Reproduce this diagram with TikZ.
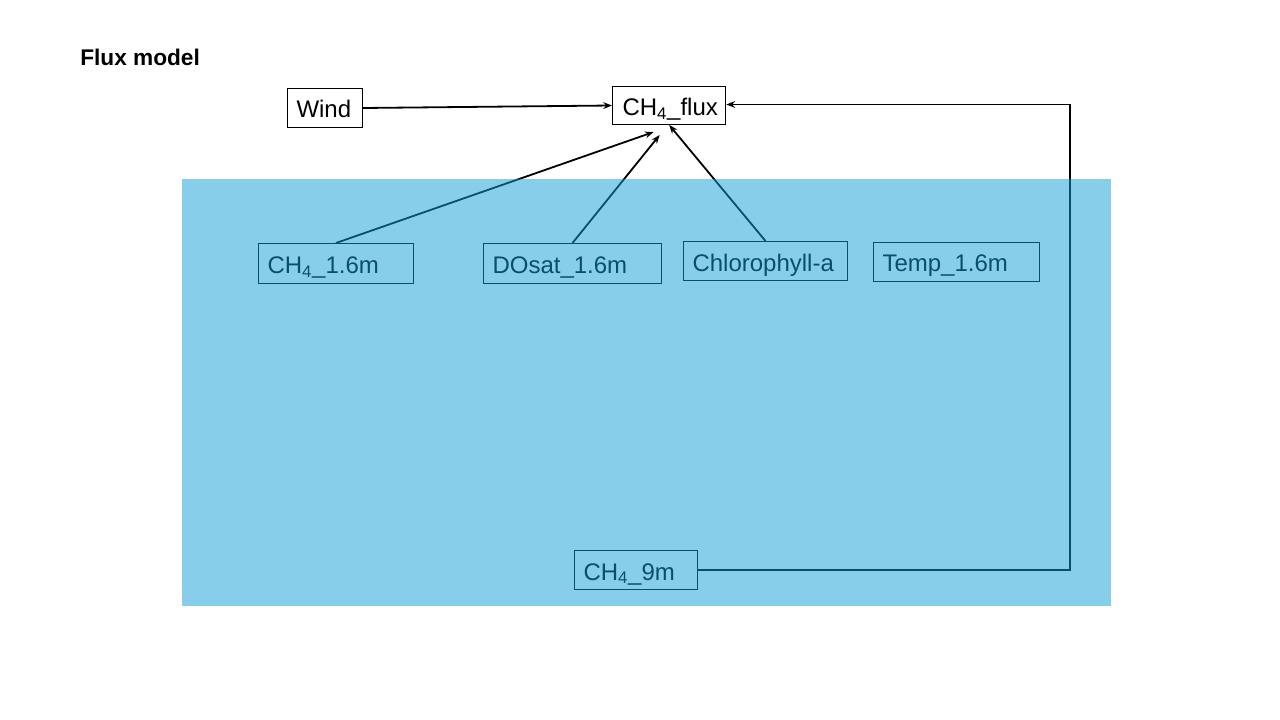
\documentclass[tikz,border=0pt]{standalone}
\usepackage{fontspec}
\setmainfont{Liberation Sans}
\usetikzlibrary{arrows.meta,calc}
\definecolor{water}{HTML}{0F9ED5}
\tikzset{
  bx/.style={draw=black, line width=0.75pt, inner xsep=6.75pt, inner ysep=0pt,
    text height=15pt, text depth=0pt,
    align=left, anchor=north west, font=\fontsize{18pt}{21pt}\selectfont, text=black},
  conn/.style={draw=black, line width=1.35pt},
  arr/.style={conn, -{Stealth[length=6.5pt,width=5pt]}}
}
\begin{document}
\begin{tikzpicture}[x=0.75pt,y=-0.75pt]
\useasboundingbox (0,0) rectangle (1280,720);
\node[anchor=base west, inner sep=0pt, font=\bfseries\fontsize{17pt}{20pt}\selectfont] (title) at (80,66) {Flux model};
\node[bx, text width=42.75pt, minimum height=29.25pt] (wind) at (287,88) {Wind};
\node[bx, text width=70pt, minimum height=28.5pt, inner xsep=7.5pt] (flux) at (612,86) {CH\textsubscript{4}\_flux};
\node[bx, text width=102.75pt, minimum height=30pt] (c16) at (258,243) {CH\textsubscript{4}\_1.6m};
\node[bx, text width=120pt, minimum height=30pt] (dos) at (483,243) {DOsat\_1.6m};
\node[bx, text width=109.5pt, minimum height=29.25pt] (chl) at (683,241) {Chlorophyll-a};
\node[bx, text width=111pt, minimum height=29.25pt] (temp) at (873,242) {Temp\_1.6m};
\node[bx, text width=78.75pt, minimum height=29.25pt] (c9) at (574,550) {CH\textsubscript{4}\_9m};
\draw[arr] (wind.east) -- (flux.west);
\draw[arr] (c16.north) -- ($(flux.south)+(-15.5,7)$);
\draw[arr] (dos.north) -- ($(flux.south)+(-9.5,10)$);
\draw[arr] (chl.north) -- (flux.south);
\coordinate (corner) at ($(flux.east)+(343.5,-1)$);
\draw[arr] (c9.east) -| (corner) -- ($(flux.east)+(0,-1)$);
\fill[water, fill opacity=0.5] (182,179) rectangle (1111,606);
\end{tikzpicture}
\end{document}
